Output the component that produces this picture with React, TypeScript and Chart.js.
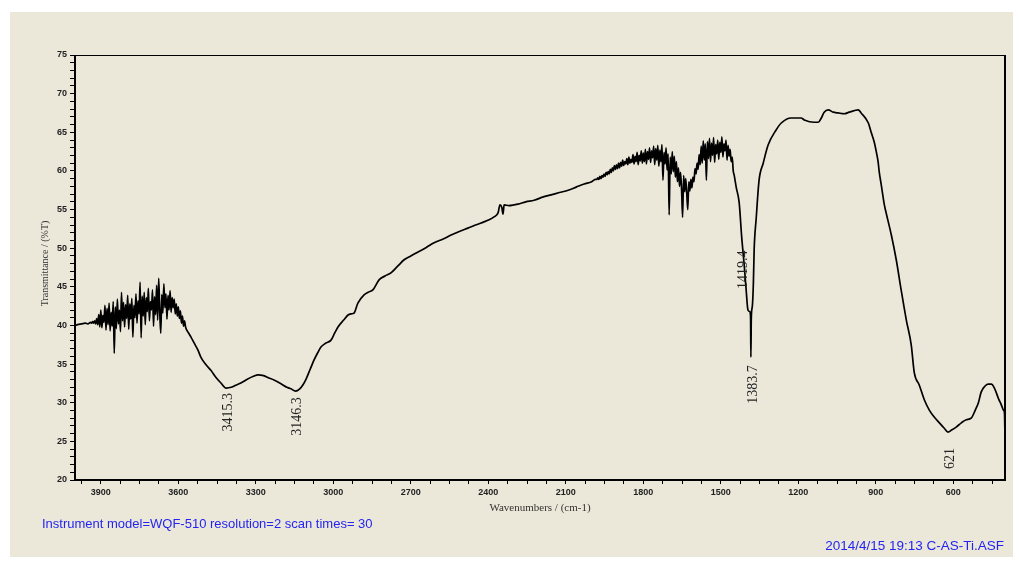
import React, { useEffect, useRef } from "react";
import { Chart, registerables } from "chart.js";

Chart.register(...registerables);

// Flat start of the spectrum at the high-wavenumber end
const baselineWn = [4000, 3990, 3975, 3960, 3950];
const baselineT = [40.0, 40.1, 40.2, 40.3, 40.2];

// Noisy water-vapour band, sampled every 4 cm-1 from 3940 downwards
const ohNoiseStartWn = 3940;
const sampleStep = 4;
const ohNoiseT = [
  40.4, 40.3, 40.5, 40.3, 40.6, 40.2, 40.9, 40.1, 41.4, 39.8,
  42.0, 39.7, 41.3, 40.4, 42.6, 39.4, 42.2, 40.1, 42.9, 39.3,
  41.7, 39.9, 43.1, 36.4, 42.4, 39.6, 43.4, 40.2, 42.0, 39.2,
  44.3, 40.6, 43.0, 39.8, 42.7, 40.9, 43.9, 39.5, 42.8, 40.8,
  43.5, 38.5, 42.6, 41.0, 44.1, 40.3, 43.2, 41.5, 45.6, 38.4,
  43.8, 41.2, 44.3, 40.1, 43.6, 41.8, 44.8, 40.6, 43.1, 42.0,
  44.6, 39.9, 43.7, 41.4, 45.2, 40.7, 46.1, 41.8, 39.0, 44.0,
  41.6, 45.4, 42.3, 44.1, 40.8, 43.9, 42.0, 44.5, 41.7, 43.6,
  42.3, 43.4, 41.5, 42.8, 41.2, 42.4, 40.9, 41.9, 40.3, 41.2,
  39.9, 40.6, 39.8,
];

// O-H stretching bands and the long rising background
const ohBandWn = [
  3560, 3551, 3540, 3524, 3513, 3495, 3474, 3455, 3435, 3415.3,
  3395, 3375, 3358, 3335, 3307, 3292, 3270, 3250, 3230, 3200,
  3180, 3164, 3146.3, 3130, 3118, 3105, 3090, 3075, 3060, 3048,
  3030, 3009, 2995, 2982, 2960, 2943, 2930, 2920, 2905, 2881,
  2865, 2847, 2823, 2800, 2777, 2750, 2726, 2700, 2672, 2640,
  2610, 2575, 2544, 2510, 2479, 2450, 2417, 2395, 2378, 2362,
  2355, 2348, 2343, 2339, 2320, 2300, 2285, 2255, 2223, 2190,
  2157, 2125, 2091, 2060, 2029, 2000, 1985,
];
const ohBandT = [
  39.0, 38.5, 37.8, 36.8, 35.9, 35.0, 34.2, 33.3, 32.55, 31.9,
  32.0, 32.3, 32.55, 33.0, 33.45, 33.6, 33.5, 33.2, 32.95, 32.4,
  32.0, 31.8, 31.5, 31.8, 32.3, 33.1, 34.3, 35.5, 36.5, 37.2,
  37.7, 38.1, 39.0, 39.8, 40.7, 41.35, 41.5, 41.6, 42.9, 43.95,
  44.3, 44.6, 45.9, 46.4, 46.8, 47.7, 48.5, 49.0, 49.5, 50.1,
  50.7, 51.2, 51.7, 52.2, 52.6, 53.0, 53.4, 53.7, 54.05, 54.6,
  55.6, 55.3, 54.4, 55.6, 55.5, 55.6, 55.7, 56.0, 56.2, 56.6,
  56.9, 57.2, 57.5, 57.9, 58.3, 58.6, 58.9,
];

// Noisy bending region, sampled every 4 cm-1 from 1980 downwards
const bendNoiseStartWn = 1980;
const bendNoiseT = [
  58.9, 59.1, 58.9, 59.3, 59.0, 59.4, 59.2, 59.6, 59.3, 59.8,
  59.5, 59.9, 59.6, 60.2, 59.8, 60.4, 60.0, 60.7, 60.2, 60.8,
  60.3, 61.0, 60.4, 61.1, 60.6, 61.4, 60.7, 61.2, 60.9, 61.6,
  60.8, 61.8, 61.0, 61.5, 61.1, 62.1, 60.9, 61.9, 61.2, 62.4,
  60.8, 62.0, 61.3, 62.6, 61.0, 62.3, 61.2, 62.8, 60.9, 62.5,
  61.5, 63.0, 61.1, 62.6, 61.7, 63.2, 60.8, 62.9, 61.4, 63.3,
  60.6, 62.7, 61.2, 63.4, 58.8, 62.4, 60.9, 63.0, 60.1, 62.2,
  54.3, 61.8, 59.6, 62.5, 59.9, 61.9, 59.2, 61.2, 58.6, 60.4,
  58.0, 59.8, 57.6, 54.0, 59.4, 57.3, 59.0, 57.1, 55.0, 58.6,
  57.4, 58.9, 57.8, 59.2, 58.6, 60.3, 59.6, 61.0, 60.2, 62.1,
  60.8, 63.2, 61.0, 63.9, 61.4, 63.5, 58.8, 63.8, 61.6, 64.2,
  61.2, 63.6, 62.0, 64.3, 61.1, 63.4, 62.2, 64.0, 61.5, 63.7,
  62.4, 64.4, 61.8, 63.5, 62.6, 64.0, 61.4, 63.3, 61.9, 62.8,
  61.2, 61.8, 60.0, 59.4,
];

// Carbonate / nitrate bands and the low-wavenumber metal-oxygen band
const lowWn = [
  1440, 1429, 1419.4, 1410, 1402, 1395, 1388, 1385, 1383.7, 1382,
  1378, 1374, 1371, 1363, 1352, 1336, 1317, 1286, 1266, 1228,
  1189, 1177, 1139, 1123, 1111, 1100, 1084, 1065, 1046, 1022,
  1003, 968, 957, 929, 918, 906, 898, 891, 887, 879,
  867, 860, 840, 821, 802, 782, 763, 751, 732, 712,
  693, 674, 654, 635, 621, 605, 589, 569, 550, 531,
  515, 503, 492, 476, 465, 453, 441, 426, 414, 406,
  402, 400,
];
const lowT = [
  57.8, 55.9, 51.5, 48.0, 44.6, 42.0, 41.8, 41.2, 35.9, 41.0,
  42.5, 45.5, 49.8, 53.9, 58.8, 61.0, 63.35, 65.3, 66.2, 66.85,
  66.85, 66.6, 66.3, 66.3, 66.85, 67.6, 67.9, 67.6, 67.5, 67.4,
  67.6, 67.9, 67.5, 66.2, 65.0, 63.7, 62.45, 61.15, 59.9, 58.2,
  55.6, 54.55, 51.7, 48.5, 44.6, 40.7, 37.5, 33.85, 32.3, 30.35,
  29.05, 28.15, 27.4, 26.7, 26.2, 26.5, 26.85, 27.4, 27.8, 28.0,
  29.05, 30.0, 31.4, 32.2, 32.4, 32.4, 31.9, 30.6, 29.7, 29.05,
  28.7, 25.2,
];

// Axis labelling
const xMajorTicks = [3900, 3600, 3300, 3000, 2700, 2400, 2100, 1800, 1500, 1200, 900, 600];
const yMajorTicks = [75, 70, 65, 60, 55, 50, 45, 40, 35, 30, 25, 20];

// Peak annotations
const peakWn = [3415.3, 3146.3, 1419.4, 1383.7, 621];
const peakText = ["3415.3", "3146.3", "1419.4", "1383.7", "621"];
const peakGap = [5, 6, 14, 8, 16];

const infoText = "Instrument model=WQF-510 resolution=2 scan times= 30";
const fileText = "2014/4/15 19:13 C-AS-Ti.ASF";
const xTitle = "Wavenumbers / (cm-1)";
const yTitle = "Transmittance / (%T)";

type Pt = { x: number; y: number };

function buildSpectrum(): Pt[] {
  const pts: Pt[] = [];
  baselineWn.forEach((w, i) => pts.push({ x: w, y: baselineT[i] }));
  ohNoiseT.forEach((t, i) => pts.push({ x: ohNoiseStartWn - i * sampleStep, y: t }));
  ohBandWn.forEach((w, i) => pts.push({ x: w, y: ohBandT[i] }));
  bendNoiseT.forEach((t, i) => pts.push({ x: bendNoiseStartWn - i * sampleStep, y: t }));
  lowWn.forEach((w, i) => pts.push({ x: w, y: lowT[i] }));
  return pts;
}

const annotationPlugin = {
  id: "irAnnotations",
  afterDraw(chart: any) {
    const ctx: CanvasRenderingContext2D = chart.ctx;
    const { left, right, top, bottom } = chart.chartArea;
    const xs = chart.scales.x;
    const ys = chart.scales.y;
    const data: Pt[] = chart.data.datasets[0].data;
    ctx.save();

    // plot frame
    ctx.strokeStyle = "#000";
    ctx.lineWidth = 2;
    ctx.beginPath();
    ctx.moveTo(left, top);
    ctx.lineTo(left, bottom);
    ctx.lineTo(right, bottom);
    ctx.lineTo(right, top);
    ctx.stroke();
    ctx.lineWidth = 1;
    ctx.beginPath();
    ctx.moveTo(left, top + 0.5);
    ctx.lineTo(right, top + 0.5);
    ctx.stroke();

    // peak labels, read upward
    ctx.fillStyle = "#222";
    ctx.font = '14px "Liberation Serif"';
    ctx.textAlign = "right";
    ctx.textBaseline = "middle";
    peakWn.forEach((w, i) => {
      const p = data.find((d) => d.x === w);
      if (!p) return;
      const px = xs.getPixelForValue(w) + 2;
      const py = ys.getPixelForValue(p.y) + peakGap[i];
      ctx.save();
      ctx.translate(px, py);
      ctx.rotate(-Math.PI / 2);
      ctx.fillText(peakText[i], 0, 0);
      ctx.restore();
    });

    // axis titles
    ctx.fillStyle = "#333";
    ctx.textAlign = "center";
    ctx.font = '11px "Liberation Serif"';
    ctx.fillText(xTitle, (left + right) / 2, 508);
    ctx.save();
    ctx.translate(45, (top + bottom) / 2 - 4);
    ctx.rotate(-Math.PI / 2);
    ctx.font = '10px "Liberation Serif"';
    ctx.fillText(yTitle, 0, 0);
    ctx.restore();

    // instrument info
    ctx.fillStyle = "#2424f2";
    ctx.font = '13px "Liberation Sans"';
    ctx.textAlign = "left";
    ctx.fillText(infoText, 42, 524);
    ctx.textAlign = "right";
    ctx.font = '13.5px "Liberation Sans"';
    ctx.fillText(fileText, 1004, 546);
    ctx.restore();
  },
};

export default function App() {
  const canvasRef = useRef<HTMLCanvasElement | null>(null);

  useEffect(() => {
    if (!canvasRef.current) return;
    const chart = new Chart(canvasRef.current, {
      type: "line",
      data: {
        datasets: [
          {
            data: buildSpectrum(),
            borderColor: "#000",
            borderWidth: 1.7,
            pointRadius: 0,
            cubicInterpolationMode: "monotone",
            fill: false,
          },
        ],
      },
      options: {
        animation: false,
        responsive: false,
        parsing: false,
        layout: { padding: { top: 55, right: 14, bottom: 0, left: 0 } },
        plugins: { legend: { display: false }, tooltip: { enabled: false } },
        scales: {
          x: {
            type: "linear",
            reverse: true,
            min: 400,
            max: 4000,
            afterFit: (s: any) => {
              s.height = 87;
            },
            afterBuildTicks: (s: any) => {
              const t = [];
              for (let v = 3975; v >= 400; v -= 75) t.push({ value: v });
              s.ticks = t;
            },
            ticks: {
              autoSkip: false,
              maxRotation: 0,
              padding: 3,
              color: "#222",
              font: { family: "Liberation Sans", size: 9, weight: "bold" },
              callback: (v: any) => (xMajorTicks.includes(Number(v)) ? String(v) : ""),
            },
            grid: { drawOnChartArea: false, drawTicks: true, tickLength: 4, color: "#000" },
            border: { display: false },
          },
          y: {
            type: "linear",
            min: 20,
            max: 75,
            afterFit: (s: any) => {
              s.width = 75;
            },
            afterBuildTicks: (s: any) => {
              const t = [];
              for (let v = 20; v <= 75; v += 1) t.push({ value: v });
              s.ticks = t;
            },
            ticks: {
              autoSkip: false,
              padding: 3,
              color: "#222",
              font: { family: "Liberation Sans", size: 9, weight: "bold" },
              callback: (v: any) => (yMajorTicks.includes(Number(v)) ? String(v) : ""),
            },
            grid: { drawOnChartArea: false, drawTicks: true, tickLength: 5, color: "#000" },
            border: { display: false },
          },
        },
      },
      plugins: [annotationPlugin],
    } as any);
    return () => chart.destroy();
  }, []);

  return (
    <div style={{ position: "absolute", left: 0, top: 0, width: 1019, height: 567, background: "#fff" }}>
      <div style={{ position: "absolute", left: 10, top: 12, width: 1003, height: 545, background: "#ebe8da" }} />
      <canvas ref={canvasRef} width={1019} height={567} style={{ position: "absolute", left: 0, top: 0 }} />
    </div>
  );
}
